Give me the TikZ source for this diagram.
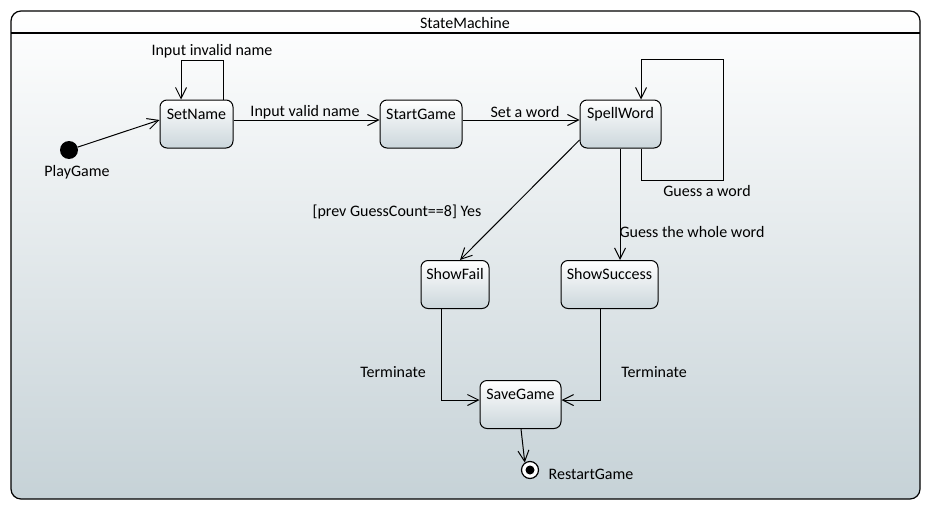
\documentclass[tikz,border=0pt]{standalone}
\usepackage{fontspec}
\setmainfont{Carlito}
\usetikzlibrary{arrows.meta,calc}
\definecolor{bgbot}{HTML}{C6D2D7}
\definecolor{stbot}{HTML}{CBD6DB}
\begin{document}
\begin{tikzpicture}[x=1pt,y=-1pt,
  every node/.style={font=\fontsize{16}{19}\selectfont, inner sep=0pt},
  tr/.style={draw=black, line width=1pt, -{Straight Barb[length=11pt,width=11pt,line width=1pt]}},
  state/.style={draw=black, line width=1pt, rectangle, rounded corners=7pt, top color=white, bottom color=stbot, minimum height=48pt},
  lbl/.style={anchor=center}
]
\useasboundingbox (0,0) rectangle (931,511);
% frame
\shade[top color=white, bottom color=bgbot, rounded corners=10pt] (11,11) rectangle (920,499);
\draw[line width=1.2pt, rounded corners=10pt] (11,11) rectangle (920,499);
\draw[line width=1.1pt] (11,33) -- (920,33);
\node (title) at (465,23) {StateMachine};

% states
\node[state, minimum width=73pt, label={[name=setnameT, anchor=center, yshift=-14.5pt]north:SetName}] (setname) at (196.5,124) {};
\node[state, minimum width=82pt, label={[name=startgameT, anchor=center, yshift=-14.5pt]north:StartGame}] (startgame) at (421,124) {};
\node[state, minimum width=81pt, label={[name=spellwordT, anchor=center, yshift=-14.5pt]north:SpellWord}] (spellword) at (620.5,124) {};
\node[state, minimum width=68pt, label={[name=showfailT, anchor=center, yshift=-14.5pt]north:ShowFail}] (showfail) at (455,284.5) {};
\node[state, minimum width=97pt, label={[name=showsuccessT, anchor=center, yshift=-14.5pt]north:ShowSuccess}] (showsuccess) at (609.5,284.5) {};
\node[state, minimum width=81pt, label={[name=savegameT, anchor=center, yshift=-14.5pt]north:SaveGame}] (savegame) at (520.5,404.5) {};

% pseudo states
\node[circle, fill=black, minimum size=18pt] (init) at (69,150) {};
\node (initT) at (77,172) {PlayGame};
\node[circle, draw=black, line width=1.2pt, fill=white, minimum size=17pt] (final) at (530,470) {};
\node[circle, fill=black, minimum size=9pt] (finaldot) at (final) {};
\node (finalT) at (591,474) {RestartGame};

% transitions
\draw[tr] (init) -- ([yshift=4pt]setname.west);
\draw[tr] ([xshift=26.5pt]setname.north) -- ++(0,-39) -| ([xshift=-15.5pt]setname.north);
\node (l1) at (212,51) {Input invalid name};

\draw[tr] ([yshift=4pt]setname.east) -- ([yshift=4pt]startgame.west);
\node (l2) at (305,112) {Input valid name};

\draw[tr] ([yshift=4pt]startgame.east) -- ([yshift=4pt]spellword.west);
\node (l3) at (525,112) {Set a word};

\coordinate (loopc) at (723,60);
\draw[tr] ([xshift=20.5pt]spellword.south) -- ++(0,32) -| (loopc) -| ([xshift=20.5pt]spellword.north);
\node (l4) at (707,191) {Guess a word};

\draw[tr] ([yshift=-16pt]spellword.west) -- ([xshift=5pt]showfail.north);
\node (l5) at (397,212) {[prev GuessCount==8] Yes};

\draw[tr] ([xshift=-0.5pt]spellword.south) -- ([xshift=-0.5pt]spellword.south |- showsuccess.north);
\node (l6) at (692,232) {Guess the whole word};

\draw[tr] ([xshift=-14pt]showfail.south) |- ([yshift=4.5pt]savegame.west);
\node (l7) at (393,372) {Terminate};

\draw[tr] ([xshift=-9.5pt]showsuccess.south) |- ([yshift=4.5pt]savegame.east);
\node (l8) at (654,372) {Terminate};

\draw[tr] ([xshift=0.5pt]savegame.south) -- (final.125);
\end{tikzpicture}
\end{document}
